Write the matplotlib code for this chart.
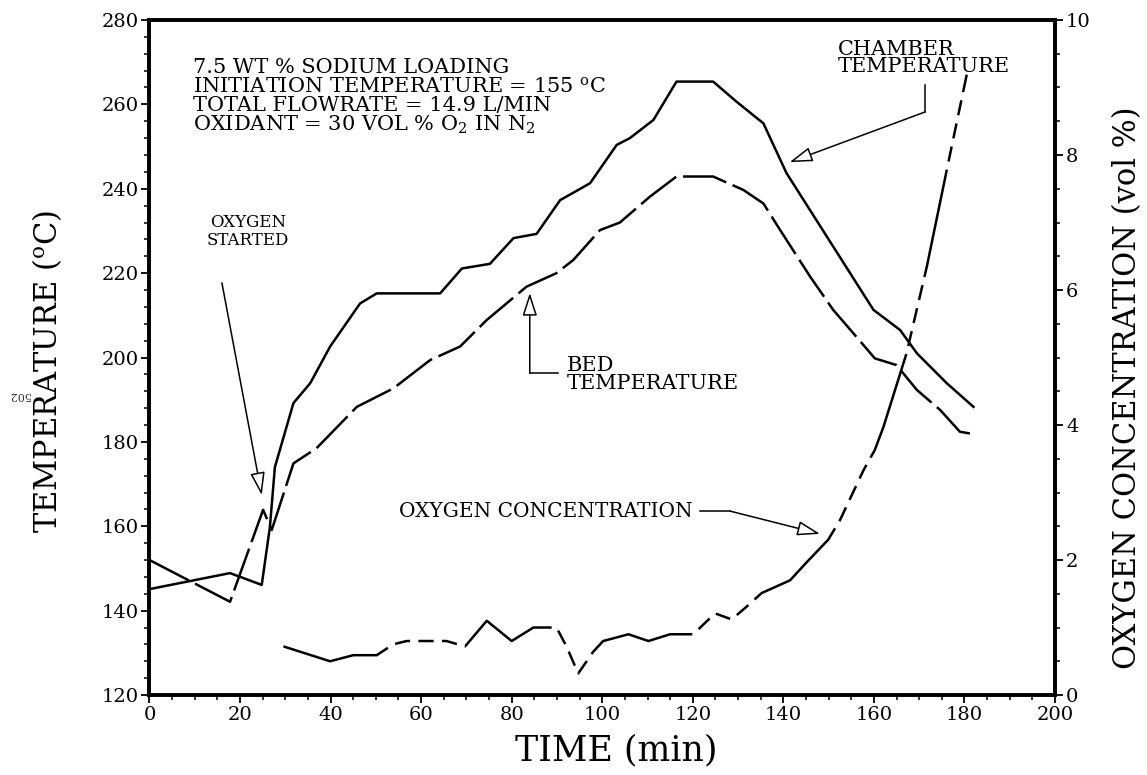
import matplotlib
matplotlib.use("Agg")
import matplotlib.pyplot as plt
import numpy as np

plt.rcParams["font.family"] = ["DejaVu Serif"]
plt.rcParams["mathtext.fontset"] = "dejavuserif"
plt.rcParams["lines.scale_dashes"] = False

# chamber temperature (solid)
chamber_t = [0, 17.8, 24.8, 26.6, 27.7, 31.8, 35.5, 39.9, 46.5, 50.2, 64.2, 69.0, 75.2,
             80.4, 85.5, 90.7, 97.3, 103.2, 106.1, 111.3, 116.4, 124.5, 129.7, 135.6,
             140.7, 159.9, 165.8, 169.5, 176.1, 182.0]
chamber_temp = [145.1, 148.9, 146.1, 159.8, 174.0, 189.2, 193.9, 202.6, 212.8, 215.2, 215.2,
                221.1, 222.2, 228.3, 229.3, 237.3, 241.3, 250.4, 252.0, 256.3, 265.4, 265.4,
                260.6, 255.5, 243.7, 211.3, 206.5, 201.0, 193.9, 188.3]

# bed temperature (long dashes)
bed_t = [0, 17.8, 25.1, 27.0, 31.8, 36.9, 45.8, 48.0, 53.9, 62.0, 68.6, 74.5, 83.3, 89.9,
         93.6, 99.5, 103.9, 110.5, 116.4, 124.5, 131.2, 135.6, 139.3, 145.9, 151.0, 155.5,
         160.2, 165.0, 169.5, 174.6, 179.0, 181.2]
bed_temp = [152.0, 142.1, 163.9, 159.1, 174.9, 178.5, 188.3, 189.5, 192.7, 199.4, 202.6,
            208.9, 216.8, 220.0, 223.1, 230.2, 232.0, 238.1, 242.9, 242.9, 239.7, 236.5,
            230.2, 219.2, 211.3, 205.7, 199.8, 198.2, 192.3, 187.6, 182.4, 182.0]

# oxygen concentration, vol % (right axis)
o2_t = [29.6, 39.9, 45.0, 50.2, 53.8, 56.8, 65.6, 69.7, 74.5, 80.0, 84.8, 89.9, 92.1, 94.7,
        98.0, 100.2, 105.8, 110.2, 115.0, 120.1, 124.9, 128.6, 131.9, 135.2, 141.5, 145.2,
        149.9, 152.5, 157.7, 160.2, 162.1, 167.2, 171.7, 176.1, 180.5]
o2_conc = [0.72, 0.50, 0.59, 0.59, 0.75, 0.80, 0.80, 0.72, 1.10, 0.80, 1.00, 1.00, 0.72,
           0.32, 0.64, 0.80, 0.90, 0.80, 0.90, 0.90, 1.21, 1.12, 1.31, 1.51, 1.70, 1.97,
           2.30, 2.59, 3.33, 3.63, 3.97, 5.06, 6.35, 7.78, 9.19]

fig = plt.figure(figsize=(11.47, 7.75), dpi=100)
ax = fig.add_axes([0.1303, 0.1032, 0.7895, 0.871])
ax2 = ax.twinx()

ax.plot(chamber_t, chamber_temp, color="black", lw=1.8)
ax.plot(bed_t, bed_temp, color="black", lw=1.8, dashes=(32, 5))
ax2.plot(o2_t, o2_conc, color="black", lw=1.8, dashes=(79, 6, 11, 6, 11, 6, 11, 6))

ax.set_xlim(0, 200)
ax.set_ylim(120, 280)
ax2.set_ylim(0, 10)
ax.set_xticks(np.arange(0, 201, 20))
ax.set_xticks(np.arange(0, 201, 5), minor=True)
ax.set_yticks(np.arange(120, 281, 20))
ax.set_yticks(np.arange(120, 281, 4), minor=True)
ax2.set_yticks(np.arange(0, 11, 2))
ax2.set_yticks(np.arange(0, 10.1, 0.5), minor=True)

for a in (ax, ax2):
    for s in a.spines.values():
        s.set_linewidth(2.6)
    a.tick_params(which="major", direction="out", length=6, width=1.3, labelsize=14, pad=2)
    a.tick_params(which="minor", direction="out", length=3.5, width=1.1)
ax.tick_params(top=False, right=False)

ax.set_xlabel("TIME (min)", fontsize=25)
ax.xaxis.set_label_coords(0.516, -0.057)
ax.set_ylabel("TEMPERATURE ($^{\\rm o}$C)", fontsize=22)
ax.yaxis.set_label_coords(-0.094, 0.48)
ax2.set_ylabel("OXYGEN CONCENTRATION (vol %)", fontsize=22)
ax2.yaxis.set_label_coords(1.063, 0.455)

ax.text(9.6, 271.0,
        "7.5 WT % SODIUM LOADING\nINITIATION TEMPERATURE = 155 $^{\\rm o}$C\n"
        "TOTAL FLOWRATE = 14.9 L/MIN\nOXIDANT = 30 VOL % O$_2$ IN N$_2$",
        fontsize=15, va="top", ha="left", linespacing=0.96)

head = dict(arrowstyle="-|>,head_length=1.4,head_width=0.45", edgecolor="black",
            facecolor="white", lw=1.1, shrinkA=0, shrinkB=0)

# oxygen started
ax.text(21.8, 229.8, "OXYGEN\nSTARTED", fontsize=12, ha="center", va="center", linespacing=1.1)
ax.annotate("", xy=(24.8, 167.4), xytext=(16.0, 217.7), arrowprops=head)

# chamber temperature
ax.text(152.1, 271.0, "CHAMBER\nTEMPERATURE", fontsize=15, ha="left", va="center",
        linespacing=0.92)
ax.plot([171.3, 171.3], [264.6, 258.2], color="black", lw=1.1)
ax.annotate("", xy=(141.4, 246.3), xytext=(171.3, 258.2), arrowprops=head)

# bed temperature
ax.text(92.2, 195.9, "BED\nTEMPERATURE", fontsize=15, ha="left", va="center", linespacing=0.92)
ax.plot([90.2, 84.0], [196.3, 196.3], color="black", lw=1.1)
ax.annotate("", xy=(84.0, 215.3), xytext=(84.0, 196.3), arrowprops=head)

# oxygen concentration
ax.text(120.0, 163.4, "OXYGEN CONCENTRATION", fontsize=14.5, ha="right", va="center")
ax.plot([121.6, 128.2], [163.6, 163.6], color="black", lw=1.1)
ax.annotate("", xy=(148.1, 158.2), xytext=(128.2, 163.6), arrowprops=head)

fig.text(0.017, 0.49, "502", fontsize=8, rotation=180, ha="center", va="center", color="#333333")

fig.savefig("out.png", dpi=100)
